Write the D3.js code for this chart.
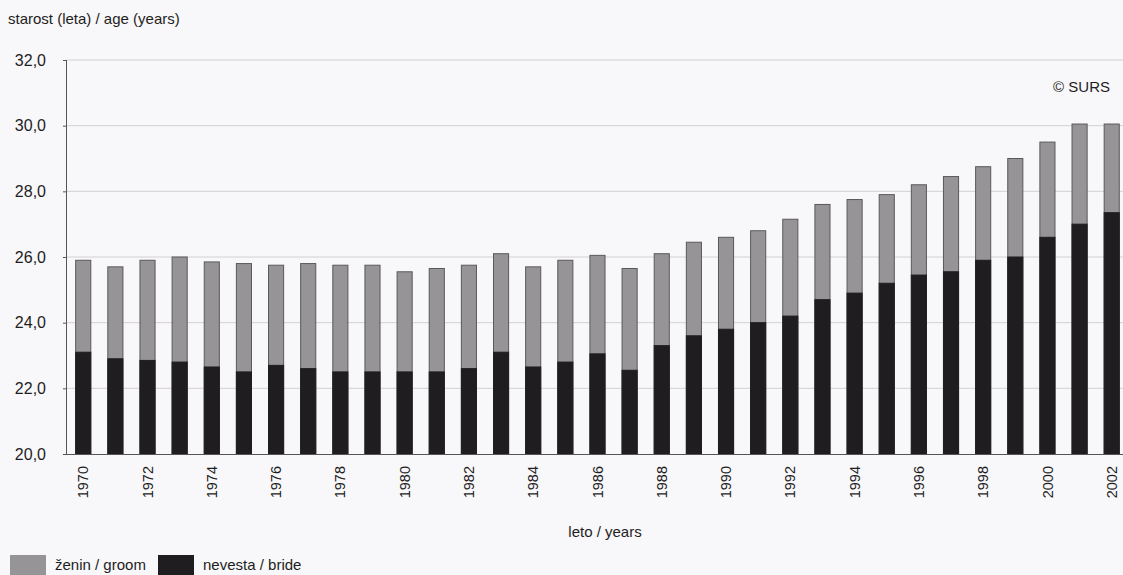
<!DOCTYPE html>
<html>
<head>
<meta charset="utf-8">
<script src="https://cdn.jsdelivr.net/npm/d3@7"></script>
<style>
  body { margin: 0; background: #f8f7f9; }
  svg { display: block; font-family: "Liberation Sans", Arial, sans-serif; }
</style>
</head>
<body>
<div id="chart"></div>
<script>
// data
const years = d3.range(1970, 2003)
const groom = [25.9, 25.7, 25.9, 26.0, 25.85, 25.8, 25.75, 25.8, 25.75, 25.75, 25.55,
               25.65, 25.75, 26.1, 25.7, 25.9, 26.05, 25.65, 26.1, 26.45, 26.6,
               26.8, 27.15, 27.6, 27.75, 27.9, 28.2, 28.45, 28.75, 29.0, 29.5, 30.05, 30.05]
const bride = [23.1, 22.9, 22.85, 22.8, 22.65, 22.5, 22.7, 22.6, 22.5, 22.5, 22.5,
               22.5, 22.6, 23.1, 22.65, 22.8, 23.05, 22.55, 23.3, 23.6, 23.8,
               24.0, 24.2, 24.7, 24.9, 25.2, 25.45, 25.55, 25.9, 26.0, 26.6, 27.0, 27.35]
const yTicks = [20, 22, 24, 26, 28, 30, 32]

const width = 1123
const height = 575
const margin = {top: 60, left: 67, bottom: 121}

const svg = d3.select("#chart").append("svg")
    .attr("width", width)
    .attr("height", height)

const x = d3.scaleBand()
    .domain(years)
    .range([margin.left, margin.left + 33 * 32.15])
    .paddingInner(0.53)
    .paddingOuter(0.27)

const y = d3.scaleLinear()
    .domain([20, 32])
    .range([height - margin.bottom, margin.top])

const fmt = d => d3.format(".1f")(d).replace(".", ",")

// grid
svg.append("g")
    .selectAll("line")
    .data(yTicks.slice(1))
    .join("line")
        .attr("x1", margin.left)
        .attr("x2", width)
        .attr("y1", d => y(d))
        .attr("y2", d => y(d))
        .attr("stroke", "#d2d0d4")
        .attr("stroke-width", 1)

// y axis
const yAxis = svg.append("g")
    .attr("transform", `translate(${margin.left},0)`)
    .call(d3.axisLeft(y).tickValues(yTicks).tickFormat(fmt).tickSize(4).tickPadding(8))
yAxis.select(".domain").attr("stroke", "#555").attr("d", `M-0.5,${y(32)}V${y(20)}`)
yAxis.selectAll(".tick line").attr("stroke", "#555")
yAxis.selectAll(".tick text")
    .attr("font-size", 16)
    .attr("fill", "#1e1e1e")
    .attr("x", -21)

// bars: groom behind, bride in front
const bars = svg.append("g")
bars.selectAll("rect.groom")
    .data(years)
    .join("rect")
        .attr("class", "groom")
        .attr("x", d => x(d))
        .attr("width", x.bandwidth())
        .attr("y", (d, i) => y(groom[i]))
        .attr("height", (d, i) => y(20) - y(groom[i]))
        .attr("fill", "#979498")
        .attr("stroke", "#5a585b")
        .attr("stroke-width", 1)
bars.selectAll("rect.bride")
    .data(years)
    .join("rect")
        .attr("class", "bride")
        .attr("x", d => x(d))
        .attr("width", x.bandwidth())
        .attr("y", (d, i) => y(bride[i]))
        .attr("height", (d, i) => y(20) - y(bride[i]))
        .attr("fill", "#1f1d20")
        .attr("stroke", "#1f1d20")
        .attr("stroke-width", 1)

// x axis
const xAxis = svg.append("g")
    .attr("transform", `translate(0,${y(20)})`)
    .call(d3.axisBottom(x).tickSize(0).tickFormat(d => d % 2 === 0 ? d : ""))
xAxis.select(".domain").attr("stroke", "#555").attr("d", `M${margin.left},0.5H${width}`)
xAxis.selectAll(".tick text")
    .attr("font-size", 14.5)
    .attr("fill", "#1e1e1e")
    .attr("transform", "rotate(-90)")
    .attr("text-anchor", "end")
    .attr("x", -12)
    .attr("y", 0)
    .attr("dy", "0.35em")

// labels
svg.append("text")
    .attr("x", 8).attr("y", 24)
    .attr("font-size", 15).attr("fill", "#1e1e1e")
    .text("starost (leta) / age (years)")

svg.append("text")
    .attr("x", 605).attr("y", 537)
    .attr("text-anchor", "middle")
    .attr("font-size", 15).attr("fill", "#1e1e1e")
    .text("leto / years")

svg.append("text")
    .attr("x", 1110).attr("y", 92)
    .attr("text-anchor", "end")
    .attr("font-size", 15).attr("fill", "#1e1e1e")
    .text("© SURS")

// legend
const legend = [
    {label: "ženin / groom", color: "#979498", x: 10},
    {label: "nevesta / bride", color: "#1f1d20", x: 158}
]
const lg = svg.append("g").selectAll("g")
    .data(legend)
    .join("g")
        .attr("transform", d => `translate(${d.x},555)`)
lg.append("rect")
    .attr("width", 36).attr("height", 20)
    .attr("fill", d => d.color)
lg.append("text")
    .attr("x", 45).attr("y", 15)
    .attr("font-size", 15).attr("fill", "#1e1e1e")
    .text(d => d.label)
</script>
</body>
</html>
